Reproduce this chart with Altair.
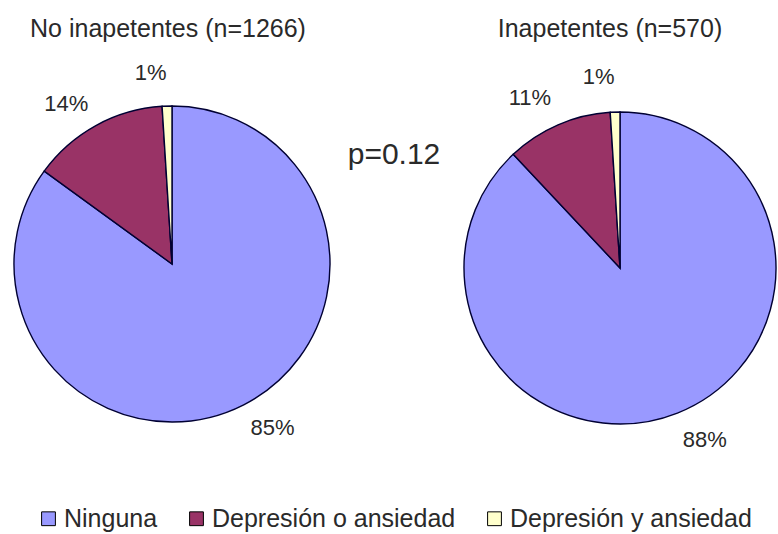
import altair as alt
import pandas as pd

categories = ["Ninguna", "Depresión o ansiedad", "Depresión y ansiedad"]
values_no_inap = [85, 14, 1]
values_inap = [88, 11, 1]
labels_no_inap = ["85%", "14%", "1%"]
labels_inap = ["88%", "11%", "1%"]
colors = ["#9999FF", "#993366", "#FFFFCC"]
titles = ["No inapetentes (n=1266)", "Inapetentes (n=570)"]
p_text = ["p=0.12"]

FONT = "Liberation Sans"
TXT = "#2a2a2a"


def pie_df(vals, labs):
    return pd.DataFrame({
        "categoria": categories,
        "valor": vals,
        "etiqueta": labs,
        "orden": list(range(len(categories))),
    })


df_l = pie_df(values_no_inap, labels_no_inap)
df_r = pie_df(values_inap, labels_inap)

color = alt.Color(
    "categoria:N",
    scale=alt.Scale(domain=categories, range=colors),
    legend=alt.Legend(title=None),
)


def pie(df, cx, cy, r):
    arc = alt.Chart(df).mark_arc(
        outerRadius=r, stroke="#000033", strokeWidth=1.4
    ).encode(
        theta=alt.Theta("valor:Q", stack=True),
        color=color,
        order=alt.Order("orden:Q"),
        x=alt.value(cx),
        y=alt.value(cy),
    )
    txt = alt.Chart(df).mark_text(
        radius=192, thetaOffset=-0.08, fontSize=22, font=FONT, color=TXT
    ).encode(
        theta=alt.Theta("valor:Q", stack=True),
        text="etiqueta:N",
        order=alt.Order("orden:Q"),
        x=alt.value(cx),
        y=alt.value(cy),
    )
    return arc, txt


arc_l, txt_l = pie(df_l, 172, 264, 158)
arc_r, txt_r = pie(df_r, 620, 268, 156)

title_l = alt.Chart(pd.DataFrame({"t": [titles[0]]})).mark_text(
    fontSize=25, font=FONT, color=TXT, baseline="alphabetic"
).encode(text="t:N", x=alt.value(168), y=alt.value(37))
title_r = alt.Chart(pd.DataFrame({"t": [titles[1]]})).mark_text(
    fontSize=25, font=FONT, color=TXT, baseline="alphabetic"
).encode(text="t:N", x=alt.value(610), y=alt.value(37))
p_mark = alt.Chart(pd.DataFrame({"t": p_text})).mark_text(
    fontSize=30, font=FONT, color=TXT, baseline="alphabetic"
).encode(text="t:N", x=alt.value(394), y=alt.value(164))

chart = alt.layer(
    arc_l, arc_r, txt_l, txt_r, title_l, title_r, p_mark
).properties(
    width=778, height=534,
    autosize=alt.AutoSizeParams(type="none"),
    padding=0,
).configure_view(stroke=None).configure_legend(
    orient="none",
    legendX=36,
    legendY=506,
    direction="horizontal",
    symbolType="square",
    symbolSize=190,
    symbolStrokeColor="#000000",
    symbolStrokeWidth=1,
    labelFontSize=25,
    labelFont=FONT,
    labelColor=TXT,
    labelLimit=0,
    labelOffset=3,
    columnPadding=26,
)

chart.save("out.html", embed_options={"renderer": "svg", "actions": False})
